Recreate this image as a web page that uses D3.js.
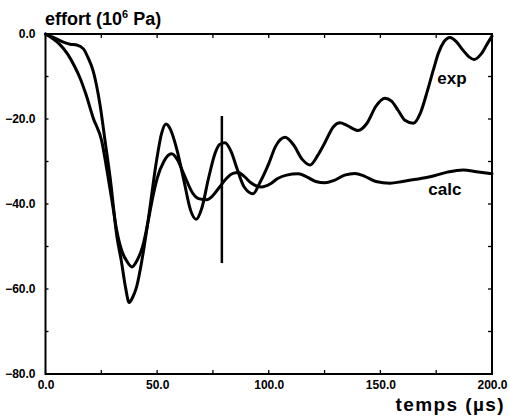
<!DOCTYPE html>
<html>
<head>
<meta charset="utf-8">
<script src="https://cdn.jsdelivr.net/npm/d3@7"></script>
<style>
  html, body { margin: 0; padding: 0; background: #fff; }
  svg { display: block; }
  text { font-family: "Liberation Sans", Arial, Helvetica, sans-serif; font-weight: bold; fill: #000; }
</style>
</head>
<body>
<svg id="chart" width="510" height="420"></svg>
<script>
// ---- data (time in µs, stress in 10^6 Pa) ----
const expTime = [0, 4, 8, 11, 14, 17, 19, 21.4, 24.4, 26.7, 29, 32, 34, 35.8, 37.5, 39, 40.8, 43.2, 46, 49.8, 52, 54, 56, 59, 62, 65, 67.5, 70, 73, 76, 78, 80.4, 83, 86, 89, 93, 96, 100, 103, 107.3, 111, 115, 118.5, 122, 125, 129, 131.9, 135, 140, 144, 148, 152, 155, 158, 161, 164.8, 168, 171, 173.7, 176, 178.5, 181.2, 184, 187, 190, 192, 195, 198, 200];
const expStress = [0, -0.9, -1.9, -2.4, -2.6, -3.5, -5.5, -8.8, -16.6, -25.2, -34, -47.7, -53.5, -59.5, -63.2, -62, -59.5, -53.2, -43.8, -29.6, -23.4, -21.2, -22.5, -27.5, -34.5, -41.5, -43.6, -41, -34, -28, -26, -25.6, -27.5, -32, -36, -37.6, -35, -30.5, -26.5, -24.3, -26, -29.5, -30.8, -28.5, -25.7, -21.8, -20.9, -21.5, -22.7, -21, -17, -15.1, -15.8, -18, -20.3, -21, -18.5, -13.5, -8.5, -4.5, -1.8, -0.8, -1.8, -3.8, -5.5, -6, -4.8, -2.2, -0.5];

const calcTime = [0, 3, 6.5, 10, 13, 15.5, 18, 21.4, 25.2, 27.5, 30, 32, 34.5, 36.5, 38.7, 41, 44, 46, 48, 50, 53, 56.5, 59, 62, 66, 69, 72.2, 75, 78, 81, 84, 86.4, 89, 92, 96.8, 100.6, 104, 108, 113.2, 117, 121, 125.2, 129, 134, 138.6, 143, 148, 154.3, 160, 166, 172.2, 180, 187.1, 193, 200];
const calcStress = [0, -1.0, -2.5, -4.8, -7.6, -10.4, -14, -19.8, -25.2, -32, -40, -46.5, -51.5, -53.5, -54.8, -53.3, -49, -44, -38.5, -34, -30, -28.2, -29.5, -33, -37.5, -38.8, -39, -38, -36, -34, -32.8, -32.6, -33.5, -35, -36, -35.3, -34, -33.2, -32.9, -33.6, -34.7, -35, -34.5, -33.2, -32.8, -33.5, -34.7, -35.1, -34.7, -34.2, -33.6, -32.5, -32, -32.4, -32.9];

const markerTime = [79];
const markerRange = [-19.3, -53.9];

const xTicks = [0, 50, 100, 150, 200];
const yTicks = [0, -20, -40, -60, -80];
const seriesLabels = ["exp", "calc"];
const yTitle = "effort (10";
const yTitleSup = "6";
const yTitleEnd = " Pa)";
const xTitle = "temps (µs)";

// ---- layout ----
const svg = d3.select("#chart");
const mLeft = 45.5, mRight = 492, mTop = 34, mBottom = 374;

const x = d3.scaleLinear().domain([0, 200]).range([mLeft, mRight]);
const y = d3.scaleLinear().domain([-80, 0]).range([mBottom, mTop]);

// frame
svg.append("rect")
  .attr("x", mLeft).attr("y", mTop)
  .attr("width", mRight - mLeft).attr("height", mBottom - mTop)
  .attr("fill", "none").attr("stroke", "#000").attr("stroke-width", 2);

// ticks (inward)
const minorX = d3.range(0, 201, 25);
const minorY = d3.range(-80, 1, 10);
const tickG = svg.append("g").attr("stroke", "#000").attr("stroke-width", 1.3);
minorX.forEach(v => {
  tickG.append("line").attr("x1", x(v)).attr("x2", x(v)).attr("y1", mBottom).attr("y2", mBottom - 4);
  tickG.append("line").attr("x1", x(v)).attr("x2", x(v)).attr("y1", mTop).attr("y2", mTop + 4);
});
minorY.forEach(v => {
  tickG.append("line").attr("y1", y(v)).attr("y2", y(v)).attr("x1", mLeft).attr("x2", mLeft + 3);
  tickG.append("line").attr("y1", y(v)).attr("y2", y(v)).attr("x1", mRight).attr("x2", mRight - 4);
});

// tick labels via axes (no lines)
const xAxis = d3.axisBottom(x).tickValues(xTicks).tickFormat(d3.format(".1f")).tickSize(0).tickPadding(6);
const gx = svg.append("g").attr("transform", `translate(0,${mBottom})`).call(xAxis);
gx.select(".domain").remove();
gx.selectAll("text").attr("font-size", 12).attr("font-family", "Liberation Sans, Arial, sans-serif").attr("font-weight", "bold").attr("fill", "#000").attr("dy", "0.71em");

const yAxis = d3.axisLeft(y).tickValues(yTicks).tickFormat(d3.format(".1f")).tickSize(0).tickPadding(10);
const gy = svg.append("g").attr("transform", `translate(${mLeft},0)`).call(yAxis);
gy.select(".domain").remove();
gy.selectAll("text").attr("font-size", 12).attr("font-family", "Liberation Sans, Arial, sans-serif").attr("font-weight", "bold").attr("fill", "#000");

// curves
const line = d3.line().x(d => x(d[0])).y(d => y(d[1])).curve(d3.curveMonotoneX);
const expData = expTime.map((t, i) => [t, expStress[i]]);
const calcData = calcTime.map((t, i) => [t, calcStress[i]]);

[expData, calcData].forEach(data => {
  svg.append("path").datum(data)
    .attr("d", line)
    .attr("fill", "none").attr("stroke", "#000")
    .attr("stroke-width", 3).attr("stroke-linejoin", "round").attr("stroke-linecap", "round");
});

// vertical marker
svg.append("line")
  .attr("x1", x(markerTime[0])).attr("x2", x(markerTime[0]))
  .attr("y1", y(markerRange[0])).attr("y2", y(markerRange[1]))
  .attr("stroke", "#000").attr("stroke-width", 2.5);

// series labels
svg.append("text").attr("x", x(175.5)).attr("y", y(-11.8)).attr("font-size", 17).text(seriesLabels[0]);
svg.append("text").attr("x", x(171.5)).attr("y", y(-37.9)).attr("font-size", 17).text(seriesLabels[1]);

// axis titles
const yt = svg.append("text").attr("x", 45).attr("y", 25).attr("font-size", 18);
yt.append("tspan").text(yTitle);
yt.append("tspan").attr("dy", -7).attr("font-size", 11).text(yTitleSup);
yt.append("tspan").attr("dy", 7).text(yTitleEnd);

svg.append("text").attr("x", 505).attr("y", 411).attr("text-anchor", "end").attr("font-size", 19).attr("letter-spacing", 1.4).text(xTitle);
</script>
</body>
</html>
